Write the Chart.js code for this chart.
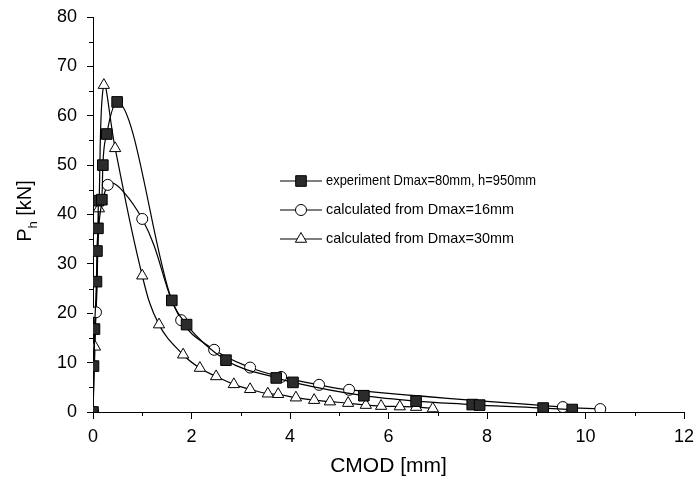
<!DOCTYPE html>
<html>
<head>
    <title>CMOD curves</title>
    <script src="https://cdn.jsdelivr.net/npm/chart.js"></script>
    <style>
        html, body { margin: 0; padding: 0; background: #fff; }
        #wrap { width: 696px; height: 481px; }
    </style>
</head>
<body>
    <div id="wrap"><canvas id="cmodChart" width="696" height="481"></canvas></div>

    <script>
        // CMOD [mm] vs P_h [kN]
        const expX = [0, 0.01, 0.03, 0.07, 0.08, 0.1, 0.11, 0.18, 0.2, 0.28, 0.49, 1.6, 1.9, 2.7, 3.72, 4.06, 5.5, 6.56, 7.7, 7.85, 9.14, 9.73];
        const expY = [0, 9.3, 16.8, 26.4, 32.6, 37.2, 42.8, 43, 50, 56.3, 62.8, 22.6, 17.7, 10.5, 6.9, 6.0, 3.3, 2.2, 1.5, 1.4, 0.8, 0.5];
        const d16X = [0, 0.06, 0.3, 1.0, 1.79, 2.46, 3.19, 3.82, 4.59, 5.2, 9.54, 10.3];
        const d16Y = [0, 20.2, 46, 39.1, 18.6, 12.6, 9.0, 7.1, 5.5, 4.5, 1.0, 0.6];
        const d30X = [0, 0.04, 0.12, 0.22, 0.45, 1.0, 1.34, 1.83, 2.17, 2.5, 2.86, 3.19, 3.55, 3.76, 4.12, 4.49, 4.81, 5.18, 5.54, 5.85, 6.23, 6.56, 6.9];
        const d30Y = [0, 13.2, 41.2, 66.2, 53.4, 27.6, 17.7, 11.6, 8.9, 7.2, 5.6, 4.6, 3.7, 3.6, 2.9, 2.4, 2.1, 1.8, 1.4, 1.2, 1.1, 1.0, 0.7];
        const seriesNames = ['experiment Dmax=80mm, h=950mm', 'calculated from Dmax=16mm', 'calculated from Dmax=30mm'];
        const xTicks = [0, 2, 4, 6, 8, 10, 12];
        const yTicks = [0, 10, 20, 30, 40, 50, 60, 70, 80];

        const FONT = 'Liberation Sans, Arial, sans-serif';

        function pts(xs, ys) {
            return xs.map((x, i) => ({ x: x, y: ys[i] }));
        }

        const styles = [
            { pointStyle: 'rect', radius: 7.5, fill: '#2b2b2b', mode: 'monotone' },
            { pointStyle: 'circle', radius: 5.5, fill: '#ffffff', mode: 'default' },
            { pointStyle: 'triangle', radius: 6.5, fill: '#ffffff', mode: 'default' }
        ];
        const legendWidths = [210, 188, 188];

        function makeSet(i, data) {
            return {
                label: seriesNames[i],
                data: data,
                borderColor: '#000',
                borderWidth: 1.2,
                tension: 0.4,
                cubicInterpolationMode: styles[i].mode,
                pointStyle: styles[i].pointStyle,
                pointRadius: styles[i].radius,
                pointBackgroundColor: styles[i].fill,
                pointBorderColor: '#000',
                pointBorderWidth: 1,
                fill: false
            };
        }

        // minor ticks, y title with subscript and the legend
        const extras = {
            id: 'extras',
            afterDraw(chart) {
                const ctx = chart.ctx;
                const xs = chart.scales.x, ys = chart.scales.y;
                ctx.save();
                ctx.strokeStyle = '#000';
                ctx.lineWidth = 1;
                ctx.beginPath();
                for (let v = 1; v < 12; v += 2) {
                    const px = Math.round(xs.getPixelForValue(v)) + 0.5;
                    ctx.moveTo(px, ys.bottom);
                    ctx.lineTo(px, ys.bottom + 4);
                }
                for (let v = 5; v < 80; v += 10) {
                    const py = Math.round(ys.getPixelForValue(v)) + 0.5;
                    ctx.moveTo(xs.left, py);
                    ctx.lineTo(xs.left - 4, py);
                }
                ctx.stroke();

                // y title
                ctx.translate(31, 211);
                ctx.rotate(-Math.PI / 2);
                ctx.fillStyle = '#000';
                ctx.textBaseline = 'alphabetic';
                ctx.textAlign = 'left';
                ctx.font = '20px ' + FONT;
                const wP = ctx.measureText('P').width;
                const wRest = ctx.measureText(' [kN]').width;
                ctx.font = '13px ' + FONT;
                const wh = ctx.measureText('h').width;
                let x0 = -(wP + wh + wRest) / 2;
                ctx.font = '20px ' + FONT;
                ctx.fillText('P', x0, 0);
                ctx.font = '13px ' + FONT;
                ctx.fillText('h', x0 + wP, 6);
                ctx.font = '20px ' + FONT;
                ctx.fillText(' [kN]', x0 + wP + wh, 0);
                ctx.restore();

                // legend
                ctx.save();
                ctx.font = '15px ' + FONT;
                ctx.textBaseline = 'middle';
                ctx.fillStyle = '#000';
                const rowsY = [181, 210, 239];
                chart.data.datasets.forEach((ds, i) => {
                    const y = rowsY[i];
                    ctx.strokeStyle = '#000';
                    ctx.lineWidth = 1.2;
                    ctx.beginPath();
                    ctx.moveTo(280, y);
                    ctx.lineTo(322, y);
                    ctx.stroke();
                    ctx.fillStyle = styles[i].fill;
                    ctx.lineWidth = 1;
                    Chart.helpers.drawPoint(ctx, {
                        pointStyle: styles[i].pointStyle,
                        radius: styles[i].radius,
                        rotation: 0,
                        borderWidth: 1
                    }, 301, y);
                    ctx.fillStyle = '#000';
                    ctx.fillText(ds.label, 326, y, legendWidths[i]);
                });
                ctx.restore();
            }
        };

        const chart = new Chart(document.getElementById('cmodChart').getContext('2d'), {
            type: 'line',
            data: {
                datasets: [
                    makeSet(0, pts(expX, expY)),
                    makeSet(1, pts(d16X, d16Y)),
                    makeSet(2, pts(d30X, d30Y))
                ]
            },
            options: {
                responsive: false,
                animation: false,
                layout: { padding: { top: 17, right: 12, left: 0, bottom: 0 } },
                plugins: {
                    legend: { display: false },
                    tooltip: { enabled: false }
                },
                scales: {
                    x: {
                        type: 'linear',
                        min: 0,
                        max: 12,
                        afterBuildTicks: s => { s.ticks = xTicks.map(v => ({ value: v })); },
                        afterFit: s => { s.height = 69; s.paddingLeft = 0; s.paddingRight = 0; },
                        border: { display: true, color: '#000', width: 1 },
                        grid: { drawOnChartArea: false, color: '#000', tickLength: 7 },
                        ticks: { color: '#000', font: { size: 18, family: FONT }, padding: 7 },
                        title: { display: true, text: 'CMOD [mm]', color: '#000', font: { size: 21, family: FONT }, padding: { top: 10, bottom: 2 } }
                    },
                    y: {
                        type: 'linear',
                        min: 0,
                        max: 80,
                        afterBuildTicks: s => { s.ticks = yTicks.map(v => ({ value: v })); },
                        afterFit: s => { s.width = 93; s.paddingTop = 0; s.paddingBottom = 0; },
                        border: { display: true, color: '#000', width: 1 },
                        grid: { drawOnChartArea: false, color: '#000', tickLength: 6 },
                        ticks: { color: '#000', font: { size: 18, family: FONT }, padding: 10 }
                    }
                }
            },
            plugins: [extras]
        });
    </script>
</body>
</html>
